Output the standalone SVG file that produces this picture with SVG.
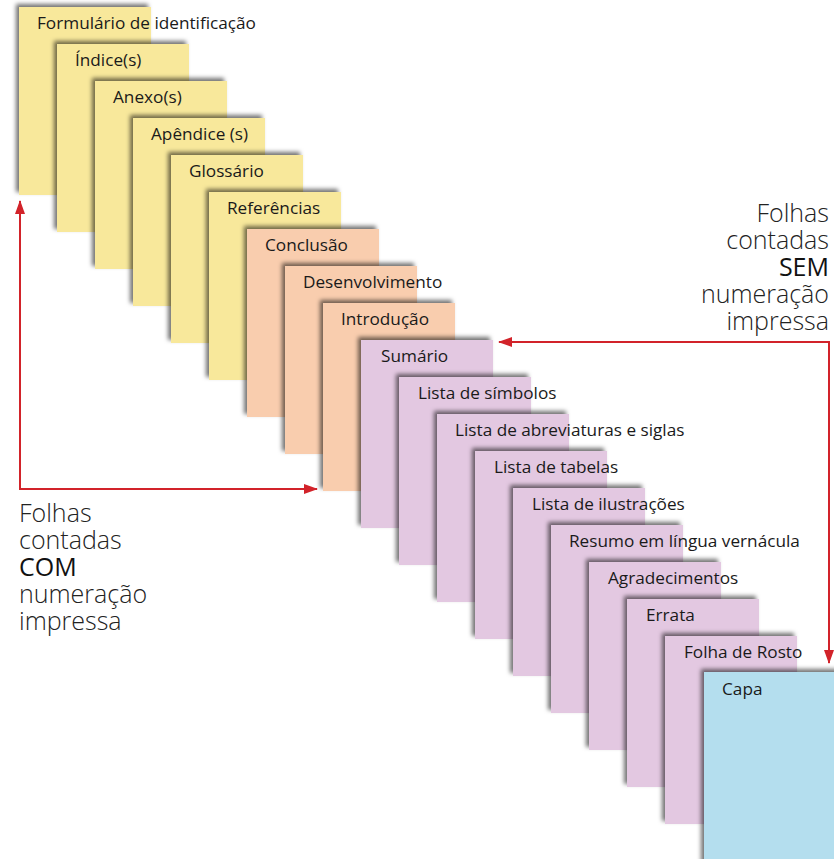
<svg xmlns="http://www.w3.org/2000/svg" width="834" height="859" viewBox="0 0 834 859">
<defs>
<filter id="sh" x="-10%" y="-10%" width="120%" height="120%">
<feDropShadow dx="-3" dy="-3" stdDeviation="2" flood-color="#000" flood-opacity="0.55"/>
</filter>
<marker id="ah" viewBox="0 0 14 10" refX="13" refY="5" markerWidth="14" markerHeight="10" markerUnits="userSpaceOnUse" orient="auto-start-reverse">
<path d="M0,0 L14,5 L0,10 z" fill="#D2232A"/>
</marker>
</defs>
<style>
.pg{filter:url(#sh);}
.y{fill:#F8E89B;}
.o{fill:#F9CDAE;}
.p{fill:#E3C8E1;}
.b{fill:#B4DEEE;}
.t{font-family:"Open Sans","Noto Sans",sans-serif;font-size:17.2px;fill:#1a1a1a;}
.side{font-family:"Open Sans","Noto Sans",sans-serif;font-size:25px;font-weight:300;fill:#222;}
.bold{font-weight:500;fill:#111;}
.con{fill:none;stroke:#D2232A;stroke-width:2;}
</style>
<g id="n0"><rect class="pg y" x="19" y="7" width="132" height="188"/><text class="t" x="37" y="29">Formulário de identificação</text></g>
<g id="n1"><rect class="pg y" x="57" y="44" width="132" height="188"/><text class="t" x="75" y="66">Índice(s)</text></g>
<g id="n2"><rect class="pg y" x="95" y="81" width="132" height="188"/><text class="t" x="113" y="103">Anexo(s)</text></g>
<g id="n3"><rect class="pg y" x="133" y="118" width="132" height="188"/><text class="t" x="151" y="140">Apêndice (s)</text></g>
<g id="n4"><rect class="pg y" x="171" y="155" width="132" height="188"/><text class="t" x="189" y="177">Glossário</text></g>
<g id="n5"><rect class="pg y" x="209" y="192" width="132" height="188"/><text class="t" x="227" y="214">Referências</text></g>
<g id="n6"><rect class="pg o" x="247" y="229" width="132" height="188"/><text class="t" x="265" y="251">Conclusão</text></g>
<g id="n7"><rect class="pg o" x="285" y="266" width="132" height="188"/><text class="t" x="303" y="288">Desenvolvimento</text></g>
<g id="n8"><rect class="pg o" x="323" y="303" width="132" height="188"/><text class="t" x="341" y="325">Introdução</text></g>
<g id="n9"><rect class="pg p" x="361" y="340" width="132" height="188"/><text class="t" x="381" y="362">Sumário</text></g>
<g id="n10"><rect class="pg p" x="399" y="377" width="132" height="188"/><text class="t" x="418" y="399">Lista de símbolos</text></g>
<g id="n11"><rect class="pg p" x="437" y="414" width="132" height="188"/><text class="t" x="455" y="436">Lista de abreviaturas e siglas</text></g>
<g id="n12"><rect class="pg p" x="475" y="451" width="132" height="188"/><text class="t" x="494" y="473">Lista de tabelas</text></g>
<g id="n13"><rect class="pg p" x="513" y="488" width="132" height="188"/><text class="t" x="532" y="510">Lista de ilustrações</text></g>
<g id="n14"><rect class="pg p" x="551" y="525" width="132" height="188"/><text class="t" x="569" y="547">Resumo em língua vernácula</text></g>
<g id="n15"><rect class="pg p" x="589" y="562" width="132" height="188"/><text class="t" x="608" y="584">Agradecimentos</text></g>
<g id="n16"><rect class="pg p" x="627" y="599" width="132" height="188"/><text class="t" x="646" y="621">Errata</text></g>
<g id="n17"><rect class="pg p" x="665" y="636" width="132" height="188"/><text class="t" x="684" y="658">Folha de Rosto</text></g>
<g id="n18"><rect class="pg b" x="704" y="672" width="140" height="200"/><text class="t" x="722" y="695">Capa</text></g>
<g id="connectors">
<polyline class="con" points="317,489 20,489 20,201" marker-start="url(#ah)" marker-end="url(#ah)"/>
<polyline class="con" points="499,342 829,342 829,663" marker-start="url(#ah)" marker-end="url(#ah)"/>
</g>
<g id="label-com">
<text class="side" x="19" y="522">Folhas</text>
<text class="side" x="19" y="549">contadas</text>
<text class="side bold" x="19" y="576">COM</text>
<text class="side" x="19" y="603">numeração</text>
<text class="side" x="19" y="630">impressa</text>
</g>
<g id="label-sem" text-anchor="end">
<text class="side" x="829" y="222">Folhas</text>
<text class="side" x="829" y="249">contadas</text>
<text class="side bold" x="829" y="276">SEM</text>
<text class="side" x="829" y="303">numeração</text>
<text class="side" x="829" y="330">impressa</text>
</g>
</svg>
